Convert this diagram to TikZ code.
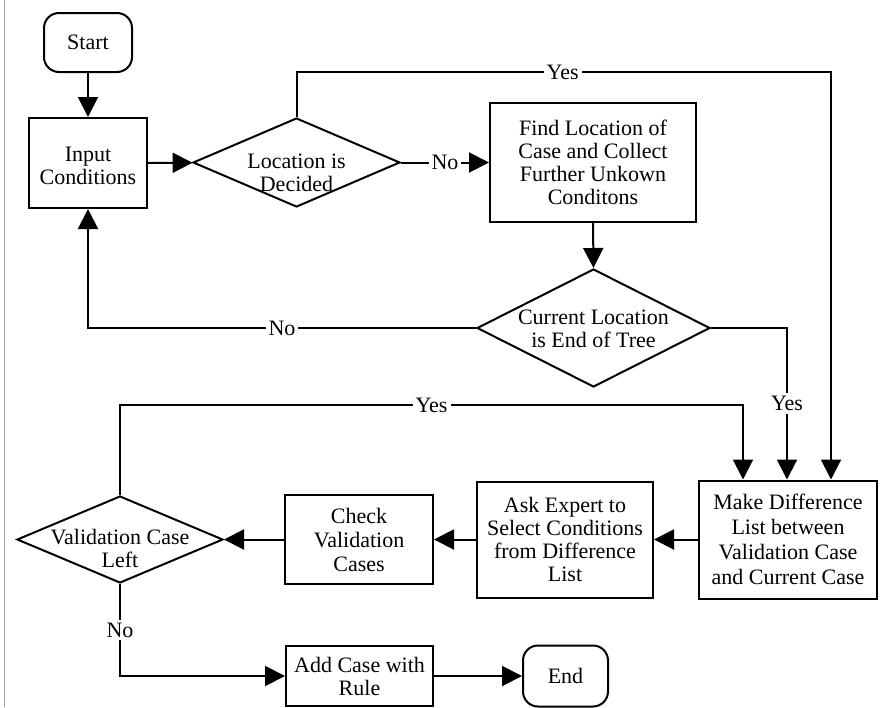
\documentclass[tikz,border=0pt]{standalone}
\usepackage{fontspec}
\setmainfont{Liberation Serif}
\usetikzlibrary{arrows.meta,shapes.geometric}

\begin{document}
\begin{tikzpicture}[x=1pt,y=-1pt,
  every node/.style={font=\fontsize{22}{23}\selectfont, align=center},
  box/.style={draw, line width=2pt, inner sep=0pt},
  term/.style={box, rounded corners=15pt},
  decision/.style={draw, diamond, line width=2pt, inner sep=0pt},
  dtext/.style={inner sep=0pt},
  arr/.style={line width=2pt, -{Triangle[length=20pt,width=20pt]}},
  lbl/.style={fill=white, inner sep=3pt}]

\useasboundingbox (0,0) rectangle (880,707);
\fill[white] (0,0) rectangle (880,707);
% page edge
\draw[gray!70, line width=1pt] (4,0) -- (4,707);

% process boxes
\node[term, minimum width=88pt, minimum height=59pt]  (start) at (88,42.5)   {Start};
\node[box,  minimum width=118pt, minimum height=90pt] (input) at (88,163)    {};
\node[dtext] (inputt) at (88,166) {Input\\Conditions};
\node[box,  minimum width=206pt, minimum height=119pt] (find) at (593,162.5) {Find Location of\\Case and Collect\\Further Unkown\\Conditons};
\node[box,  minimum width=178pt, minimum height=118pt, font=\fontsize{22}{25}\selectfont] (make) at (788,539.5) {Make Difference\\List between\\Validation Case\\and Current Case};
\node[box,  minimum width=176pt, minimum height=116pt] (ask)  at (565,539.5) {Ask Expert to\\Select Conditions\\from Difference\\List};
\node[box,  minimum width=148pt, minimum height=89pt, font=\fontsize{22}{24}\selectfont]  (check) at (359,539.5) {Check\\Validation\\Cases};
\node[box,  minimum width=147pt, minimum height=60pt]  (add)  at (359.5,676) {Add Case with\\Rule};
\node[term, minimum width=85pt, minimum height=61pt]   (end)  at (565.5,676) {End};

% decisions (text set a little below the centre)
\node[decision, minimum width=207pt, minimum height=89pt]  (d1) at (296.5,162.5) {};
\node[dtext] (d1t) at ([yshift=-10pt]d1.center) {Location is\\Decided};
\node[decision, minimum width=233pt, minimum height=118pt] (d2) at (593.5,328) {};
\node[dtext] (d2t) at ([yshift=-1pt]d2.center) {Current Location\\is End of Tree};
\node[decision, minimum width=206pt, minimum height=87pt]  (d3) at (120,539.5) {};
\node[dtext] (d3t) at ([yshift=-9pt]d3.center) {Validation Case\\Left};

% bends
\coordinate (c1) at (831,72);
\coordinate (c2) at (787,328);
\coordinate (c3) at (743,405);

% connectors
\draw[arr] (start) -- (input);
\draw[arr] (input) -- (d1);
\draw[arr] (d1.east) -- node[lbl] {No} (find.west);
\draw[arr] (d1.north) |- node[lbl, pos=0.749] {Yes} (c1) -- (c1 |- make.north);
\draw[arr] (find.south) -- (d2.north);
\draw[arr] (d2.west) -| node[lbl, pos=0.25] {No} (input.south);
\draw[arr] (d2.east) -- (c2) -- node[lbl] {Yes} (c2 |- make.north);
\draw[arr] (d3.north) |- node[lbl, pos=0.75] {Yes} (c3) -- (c3 |- make.north);
\draw[arr] (make.west) -- (ask.east);
\draw[arr] (ask.west) -- (check.east);
\draw[arr] (check.west) -- (d3.east);
\draw[arr] (d3.south) |- node[lbl, pos=0.25] {No} (add.west);
\draw[arr] (add.east) -- (end.west);
\end{tikzpicture}
\end{document}
